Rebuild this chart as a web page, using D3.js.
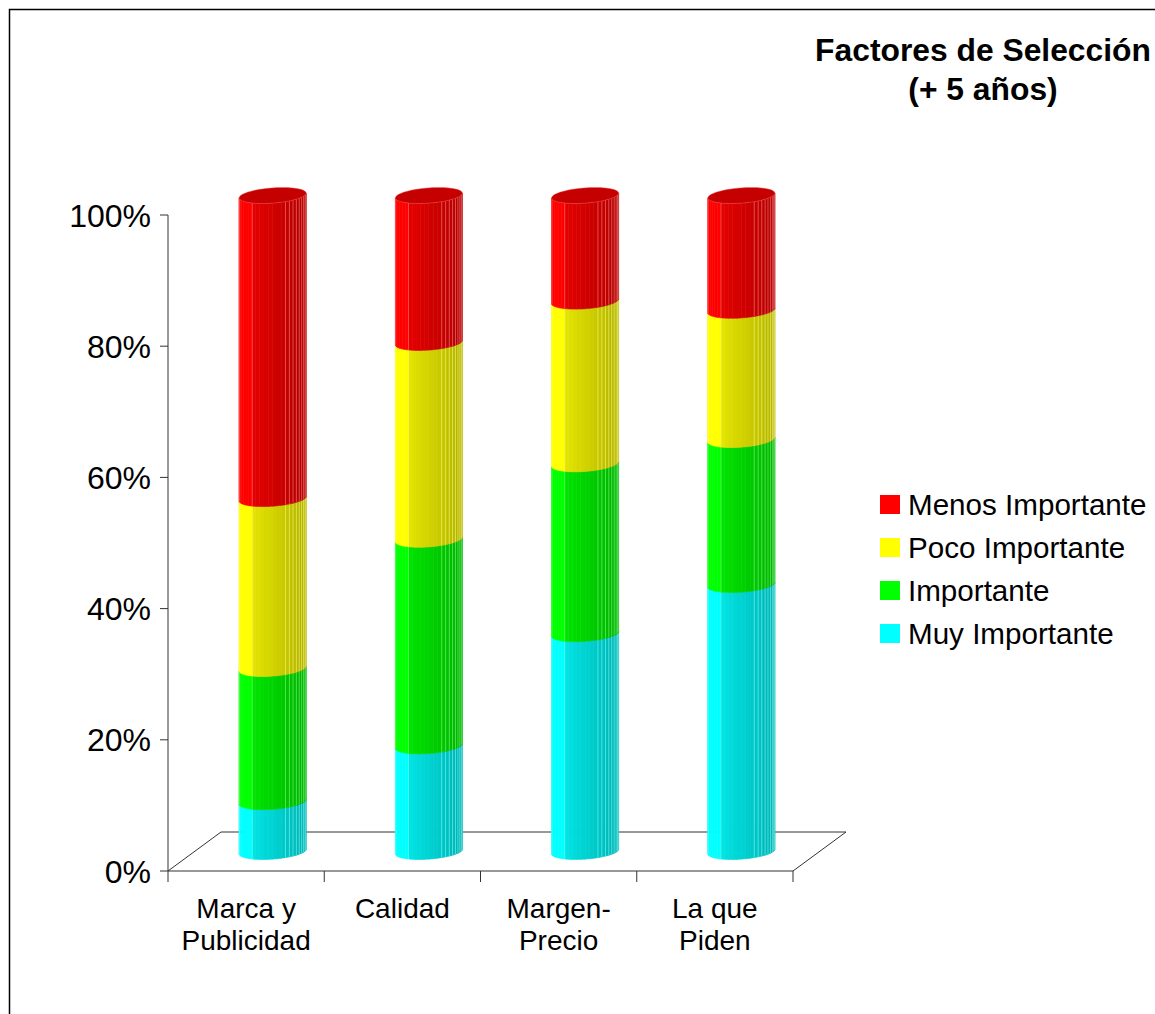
<!DOCTYPE html>
<html>
<head>
<meta charset="utf-8">
<script src="https://cdn.jsdelivr.net/npm/d3@7"></script>
<style>
  html, body { margin: 0; padding: 0; background: #fff; }
  svg { display: block; }
  text { font-family: "Liberation Sans", Arial, sans-serif; fill: #000; }
</style>
</head>
<body>
<svg id="chart" width="1155" height="1014"></svg>
<script>
// Categories (x axis), split into display lines
const categories = ["Marca y Publicidad", "Calidad", "Margen-Precio", "La que Piden"];
const categoryLines = [["Marca y", "Publicidad"], ["Calidad"], ["Margen-", "Precio"], ["La que", "Piden"]];

// Series, stacked bottom to top (percent of answers)
const seriesNames = ["Muy Importante", "Importante", "Poco Importante", "Menos Importante"];
const muyImportante   = [7.6, 16.1, 33.2, 40.7];
const importante      = [20.3, 31.5, 25.9, 22.1];
const pocoImportante  = [25.9, 30.0, 24.8, 19.7];
const menosImportante = [46.2, 22.4, 16.1, 17.5];
const seriesColors = ["#00ffff", "#00ff00", "#ffff00", "#ff0000"];

// Legend order (top to bottom)
const legendOrder = ["Menos Importante", "Poco Importante", "Importante", "Muy Importante"];

const yTicks = [0, 0.2, 0.4, 0.6, 0.8, 1.0];
const title = ["Factores de Selección", "(+ 5 años)"];

const rows = categories.map((c, i) => ({
  category: c,
  "Muy Importante": muyImportante[i],
  "Importante": importante[i],
  "Poco Importante": pocoImportante[i],
  "Menos Importante": menosImportante[i]
}));

const svg = d3.select("#chart");

// frame around the chart area
svg.append("rect")
  .attr("x", 9.5).attr("y", 9.5).attr("width", 1300).attr("height", 1100)
  .attr("fill", "none").attr("stroke", "#000").attr("stroke-width", 1.5);

// layout of the 3D plot
const x0 = 168, x1 = 793, yBase = 871, yTop = 215;
const depthX = 53, depthY = 39;

const x = d3.scaleBand().domain(categories).range([x0, x1]).padding(0);
const y = d3.scaleLinear().domain([0, 1]).range([yBase, yTop]);

const stack = d3.stack().keys(seriesNames).offset(d3.stackOffsetExpand);
const stacked = stack(rows);

// floor
svg.append("path")
  .attr("d", `M${x0},${yBase} L${x0 + depthX},${yBase - depthY} L${x1 + depthX},${yBase - depthY} L${x1},${yBase}`)
  .attr("fill", "none").attr("stroke", "#333").attr("stroke-width", 1);

// cylinder geometry (oblique projection of a circle)
const ea = 32, ebu = 10, ebv = 8;
const t0 = Math.atan2(ebu, ea);
const tL = t0 + Math.PI;
function arcPt(cx, cy, t) {
  return [cx + ea * Math.cos(t) + ebu * Math.sin(t), cy - ebv * Math.sin(t)];
}
function arcPts(cx, cy, ta, tb, n) {
  const pts = [];
  for (let i = 0; i <= n; i++) pts.push(arcPt(cx, cy, ta + (tb - ta) * i / n));
  return pts;
}

const N = 24;
function shade(u) {
  if (u < 0.04) return 0.94;
  if (u < 0.3) return 1.0;
  return 0.9 - 0.26 * (u - 0.3) / 0.7;
}
const lineU = new Set([1, 7, 15, 16, 17, 18, 19, 20, 21, 22, 23]);

function scaleColor(c, b) {
  const r = d3.rgb(c);
  return d3.rgb(r.r * b, r.g * b, r.b * b).formatHex();
}

const bars = svg.append("g");
const line = d3.line();

categories.forEach((cat, ci) => {
  const cx = x(cat) + x.bandwidth() / 2 + depthX / 2;
  const g = bars.append("g");
  stacked.forEach((layer, si) => {
    const d = layer[ci];
    const yb = y(d[0]) - depthY / 2;
    const yt = y(d[1]) - depthY / 2;
    const base = seriesColors[si];
    for (let k = 0; k < N; k++) {
      const ta = tL + Math.PI * k / N, tb = tL + Math.PI * (k + 1) / N;
      const bottom = arcPts(cx, yb, ta, tb, 4);
      const top = arcPts(cx, yt, ta, tb, 4).reverse();
      const col = scaleColor(base, shade((k + 0.5) / N));
      g.append("path")
        .attr("d", line(bottom.concat(top)) + "Z")
        .attr("fill", col).attr("stroke", col).attr("stroke-width", 0.6);
    }
    // facet edges
    for (let k = 1; k < N; k++) {
      if (!lineU.has(k)) continue;
      const t = tL + Math.PI * k / N;
      const pb = arcPt(cx, yb, t), pt = arcPt(cx, yt, t);
      g.append("line")
        .attr("x1", pb[0]).attr("y1", pb[1]).attr("x2", pt[0]).attr("y2", pt[1])
        .attr("stroke", d3.interpolateRgb(base, "#ffffff")(0.5))
        .attr("stroke-opacity", 0.7).attr("stroke-width", 0.8);
    }
    // cap on the top segment
    if (si === stacked.length - 1) {
      const cap = arcPts(cx, yt, 0, 2 * Math.PI, 72);
      g.append("path")
        .attr("d", line(cap) + "Z")
        .attr("fill", scaleColor(base, 0.77))
        .attr("stroke", d3.interpolateRgb(base, "#ffffff")(0.35))
        .attr("stroke-opacity", 0.6).attr("stroke-width", 0.7);
    }
  });
});

// y axis
const yAxis = svg.append("g");
yAxis.append("line").attr("x1", x0).attr("x2", x0).attr("y1", yBase).attr("y2", yTop)
  .attr("stroke", "#333").attr("stroke-width", 1);
yTicks.forEach(v => {
  yAxis.append("line").attr("x1", x0 - 8).attr("x2", x0).attr("y1", y(v)).attr("y2", y(v))
    .attr("stroke", "#333").attr("stroke-width", 1);
  yAxis.append("text")
    .attr("x", 151).attr("y", y(v)).attr("dy", "0.36em")
    .attr("text-anchor", "end").attr("font-size", 32)
    .text(d3.format(".0%")(v));
});

// x axis
const xAxis = svg.append("g");
xAxis.append("line").attr("x1", x0).attr("x2", x1).attr("y1", yBase).attr("y2", yBase)
  .attr("stroke", "#333").attr("stroke-width", 1);
const tickXs = categories.map(c => x(c)).concat([x1]);
tickXs.forEach(tx => {
  xAxis.append("line").attr("x1", tx).attr("x2", tx).attr("y1", yBase).attr("y2", yBase + 11)
    .attr("stroke", "#333").attr("stroke-width", 1);
});
categories.forEach((cat, ci) => {
  const t = xAxis.append("text")
    .attr("x", x(cat) + x.bandwidth() / 2).attr("y", 918)
    .attr("text-anchor", "middle").attr("font-size", 28);
  categoryLines[ci].forEach((ln, li) => {
    t.append("tspan").attr("x", x(cat) + x.bandwidth() / 2).attr("dy", li === 0 ? 0 : 32).text(ln);
  });
});

// legend
const legend = svg.append("g");
legendOrder.forEach((name, i) => {
  const cy = 504.5 + i * 43;
  legend.append("rect").attr("x", 880).attr("y", cy - 9.5).attr("width", 20).attr("height", 19)
    .attr("fill", seriesColors[seriesNames.indexOf(name)]);
  legend.append("text").attr("x", 908).attr("y", cy).attr("dy", "0.36em")
    .attr("font-size", 29.6).text(name);
});

// title
svg.append("text").attr("x", 983).attr("y", 61).attr("text-anchor", "middle")
  .attr("font-size", 31.8).attr("font-weight", "bold").text(title[0]);
svg.append("text").attr("x", 983).attr("y", 100).attr("text-anchor", "middle")
  .attr("font-size", 31.8).attr("font-weight", "bold").text(title[1]);
</script>
</body>
</html>
